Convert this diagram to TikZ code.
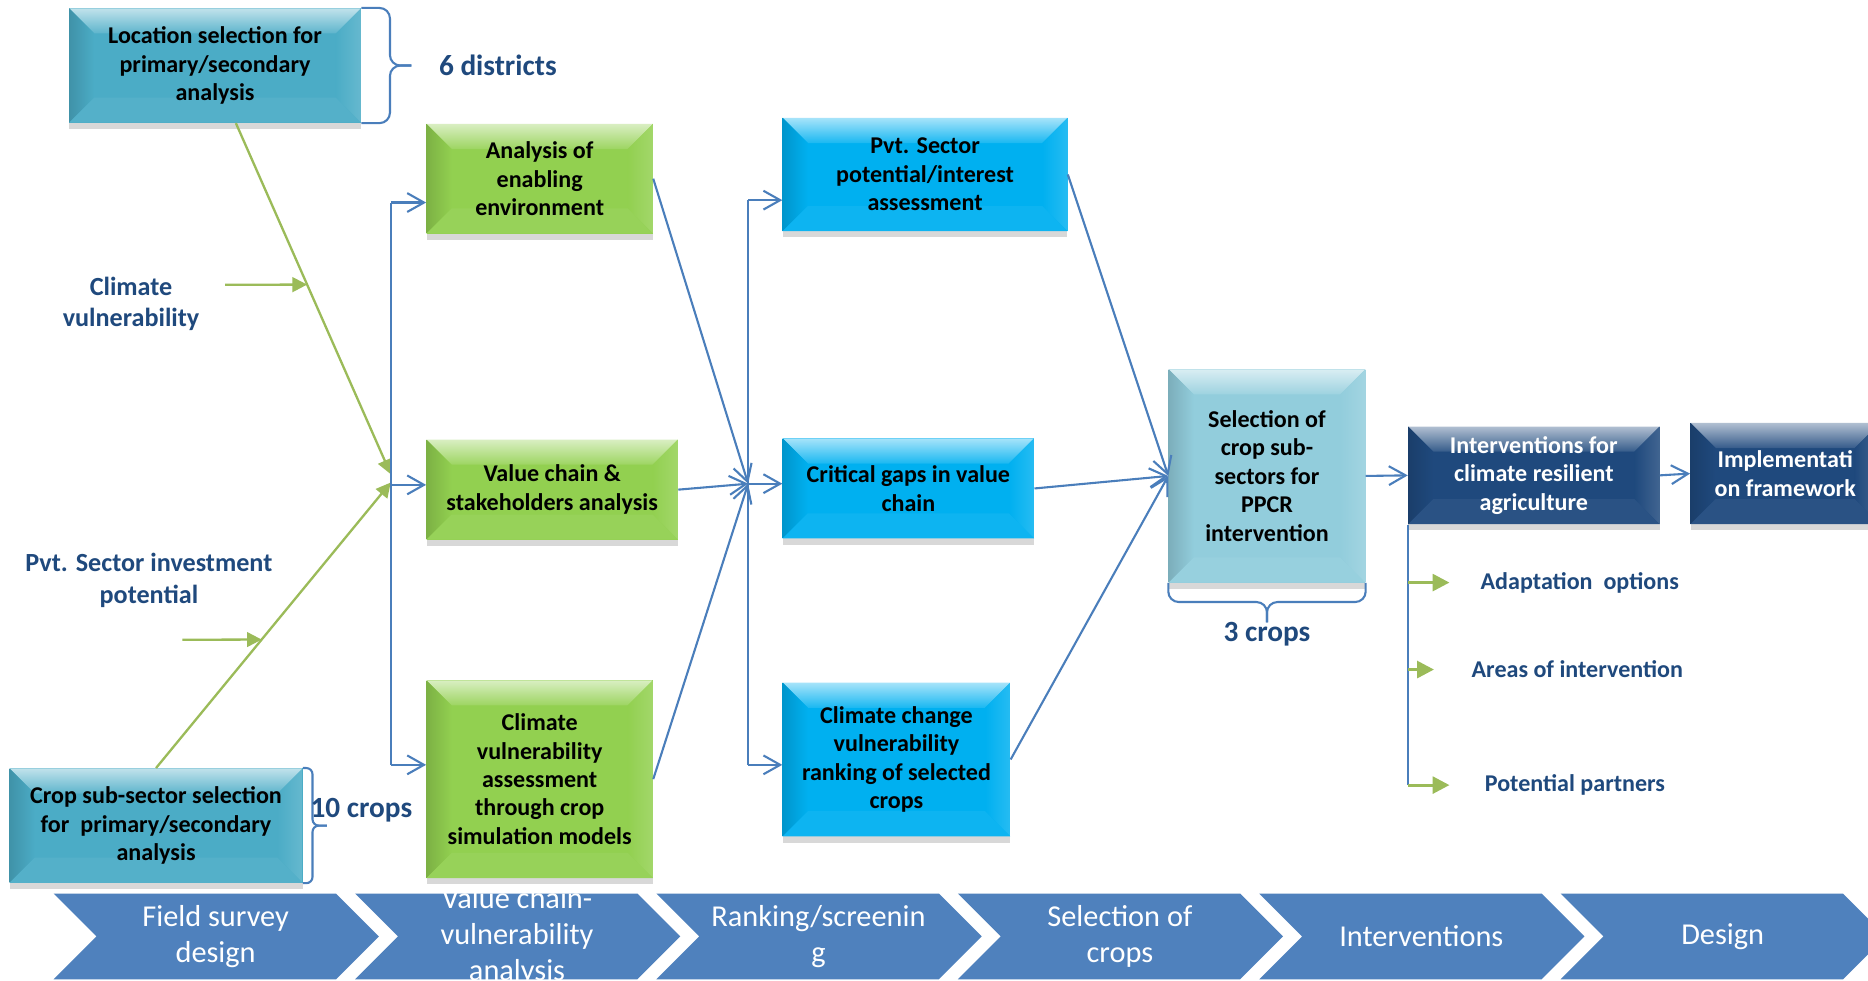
\documentclass[tikz,border=0pt]{standalone}
\usepackage{fontspec}
\setmainfont{Carlito}
\usetikzlibrary{arrows.meta,calc,positioning,shadows}

\definecolor{tealbox}{HTML}{4BACC6}
\definecolor{greenbox}{HTML}{92D050}
\definecolor{cyanbox}{HTML}{00B0F0}
\definecolor{palebox}{HTML}{92CDDC}
\definecolor{navybox}{HTML}{1F497D}
\definecolor{linkblue}{HTML}{4A7EBB}
\definecolor{linkgreen}{HTML}{9BBB59}
\definecolor{chevblue}{HTML}{4F81BD}
\definecolor{labelblue}{HTML}{1F497D}

\begin{document}
\begin{tikzpicture}[
        x=0.02cm, y=-0.02cm,
        % bevelled box: lit top, dark left, light right, dark bottom
        bevel/.style={fill=#1, path picture={
            \path (path picture bounding box.north west) coordinate (bnw)
                  (path picture bounding box.north east) coordinate (bne)
                  (path picture bounding box.south west) coordinate (bsw)
                  (path picture bounding box.south east) coordinate (bse);
            \shade[top color=#1!35!white, bottom color=#1!90!white]
                (bnw) -- (bne) -- ([shift={(-12pt,-12pt)}]bne) -- ([shift={(12pt,-12pt)}]bnw) -- cycle;
            \shade[left color=#1!85!black, right color=#1]
                (bnw) -- ([shift={(12pt,-12pt)}]bnw) -- ([shift={(12pt,12pt)}]bsw) -- (bsw) -- cycle;
            \shade[left color=#1, right color=#1!85!white]
                (bne) -- ([shift={(-12pt,-12pt)}]bne) -- ([shift={(-12pt,12pt)}]bse) -- (bse) -- cycle;
            \fill[#1!95!white]
                (bsw) -- ([shift={(12pt,12pt)}]bsw) -- ([shift={(-12pt,12pt)}]bse) -- (bse) -- cycle;
        }},
        box/.style={bevel=#1, inner sep=2pt, align=center,
            font=\bfseries\fontsize{11.5}{13.6}\selectfont,
            drop shadow={shadow xshift=0pt, shadow yshift=-3pt, opacity=.3}},
        note/.style={text=labelblue, align=center, font=\bfseries\fontsize{12.5}{15}\selectfont},
        count/.style={text=labelblue, inner sep=0pt, font=\bfseries\fontsize{14}{16}\selectfont},
        item/.style={text=labelblue, font=\bfseries\fontsize{11.5}{13.6}\selectfont},
        phase/.style={text=white, align=center, font=\fontsize{14.5}{17}\selectfont},
        bline/.style={draw=linkblue, line width=1pt},
        barrow/.style={bline, -{Straight Barb[length=8pt,width=9pt]}},
        garrow/.style={draw=linkgreen, line width=1.1pt, -{Triangle[length=7pt,width=7pt]}},
        glist/.style={draw=linkgreen, line width=1.5pt, -{Triangle[length=8pt,width=8pt]}},
        brace/.style={draw=linkblue, line width=1pt, rounded corners=5pt}
    ]
    \useasboundingbox (0,0) rectangle (1568,823);
    \fill[white] (0,0) rectangle (1568,823);

    % phases along the bottom
    \foreach \txt [count=\i from 0] in {{Field survey\\design}, {Value chain-\\vulnerability\\analysis},
            {Ranking/screenin\\g}, {Selection of\\crops}, Interventions, Design} {
        \fill[chevblue] (45+253*\i,750) -- ++(237,0) -- ++(36,36) -- ++(-36,36) -- ++(-237,0) -- ++(36,-36) -- cycle;
        \node[phase] (phase\i) at (181+253*\i,786) {\txt};
    }

    % field survey design
    \node[box=tealbox, minimum width=4.9cm, minimum height=1.92cm] (loc) at (180.5,55)
        {Location selection for\\primary/secondary\\analysis};
    \node[box=tealbox, minimum width=4.92cm, minimum height=1.92cm] (crop) at (131,693)
        {Crop sub-sector selection\\for\ \ primary/secondary\\analysis};
    \node[note] (clim) at (110,255) {Climate\\vulnerability};
    \node[note] (pvtinv) at (125,487) {Pvt. Sector investment\\potential};

    % value chain / vulnerability analysis
    \node[box=greenbox, minimum width=3.8cm, minimum height=1.84cm] (env) at (453,150)
        {Analysis of\\enabling\\environment};
    \node[box=greenbox, minimum width=4.22cm, minimum height=1.68cm] (vc) at (463.5,411)
        {Value chain \&\\stakeholders analysis};
    \node[box=greenbox, minimum width=3.8cm, minimum height=3.32cm] (cva) at (453,654)
        {Climate\\vulnerability\\assessment\\through crop\\simulation models};

    % ranking / screening
    \node[box=cyanbox, minimum width=4.78cm, minimum height=1.9cm] (pvt) at (776.5,146.5)
        {Pvt. Sector\\potential/interest\\assessment};
    \node[box=cyanbox, minimum width=4.22cm, minimum height=1.68cm] (gaps) at (762.5,410)
        {Critical gaps in value\\chain};
    \node[box=cyanbox, minimum width=3.82cm, minimum height=2.58cm] (ccv) at (752.5,637.5)
        {Climate change\\vulnerability\\ranking of selected\\crops};

    % selection, interventions, design
    \node[box=palebox, minimum width=3.3cm, minimum height=3.58cm] (sel) at (1063.5,399.5)
        {Selection of\\crop sub-\\sectors for\\PPCR\\intervention};
    \node[box=navybox, text=white, minimum width=4.22cm, minimum height=1.64cm] (intv) at (1287.5,399)
        {Interventions for\\climate resilient\\agriculture};
    \node[box=navybox, text=white, minimum width=3.18cm, minimum height=1.7cm] (impl) at (1498.5,397.5)
        {Implementati\\on framework};

    \node[item] (opt) at (1326,489) {Adaptation\ \ options};
    \node[item] (area) at (1324,562) {Areas of intervention};
    \node[item] (part) at (1322,659) {Potential partners};

    % braces
    \coordinate (dtip) at ($(loc.east)+(42,0)$);
    \draw[brace] (loc.north east) -- ++(24,0) |- (dtip);
    \draw[brace] (loc.south east) -- ++(24,0) |- (dtip);
    \node[count, right=13pt of dtip] (dist) {6 districts};

    \coordinate (ctip) at ($(crop.east)+(20,0)$);
    \draw[brace, rounded corners=3pt] (crop.north east) -- ++(8,0) |- (ctip);
    \draw[brace, rounded corners=3pt] (crop.south east) -- ++(8,0) |- (ctip);
    \node[count, anchor=west] (ten) at ($(crop.east)+(6,-13)$) {10 crops};

    \coordinate (stip) at ($(sel.south)+(0,33)$);
    \draw[brace] (sel.south west) -- ++(0,16) -| (stip);
    \draw[brace] (sel.south east) -- ++(0,16) -| (stip);
    \node[count, below=0pt of stip] (three) {3 crops};

    % green inputs
    \coordinate (gjoin1) at (328,398);
    \coordinate (gjoin2) at (328,405);
    \coordinate (clin) at (189,239);
    \coordinate (piin) at (153,537);
    \draw[garrow] ($(loc.south)+(17.5,0)$) -- coordinate[pos=.46] (cvtip) (gjoin1);
    \draw[garrow] (crop.north) -- coordinate[pos=.45] (pitip) (gjoin2);
    \draw[garrow] (clin) -- (cvtip);
    \draw[garrow] (piin) -- (pitip);

    % first fan out
    \coordinate (bus1t) at (328,170);
    \coordinate (bus1m) at (328,407);
    \coordinate (bus1b) at (328,642);
    \draw[bline] (bus1t) -- (bus1b);
    \draw[barrow] (bus1t) -- (bus1t -| env.west);
    \draw[barrow] (bus1m) -- (bus1m -| vc.west);
    \draw[barrow] (bus1b) -- (bus1b -| cva.west);

    % second fan in and out
    \coordinate (bus2t) at (628,168);
    \coordinate (bus2m) at (628,406);
    \coordinate (bus2b) at (628,642);
    \draw[barrow] (env.east) -- (bus2m);
    \draw[barrow] (vc.east) -- (bus2m);
    \draw[barrow] (cva.east) -- (bus2m);
    \draw[bline] (bus2t) -- (bus2b);
    \draw[barrow] (bus2t) -- (bus2t -| pvt.west);
    \draw[barrow] (bus2m) -- (bus2m -| gaps.west);
    \draw[barrow] (bus2b) -- (bus2b -| ccv.west);

    % into selection and onwards
    \draw[barrow] (pvt.east) -- (sel.west);
    \draw[barrow] (gaps.east) -- (sel.west);
    \draw[barrow] (ccv.east) -- (sel.west);
    \draw[barrow] (sel.east) -- (intv.west);
    \draw[barrow] (intv.east) -- (impl.west);

    % intervention list
    \draw[bline] (intv.south west) -- (intv.south west |- part);
    \draw[glist] (intv.south west |- opt) -- ++(35,0);
    \draw[glist] (intv.south west |- area) -- ++(22,0);
    \draw[glist] (intv.south west |- part) -- ++(35,0);
\end{tikzpicture}
\end{document}
